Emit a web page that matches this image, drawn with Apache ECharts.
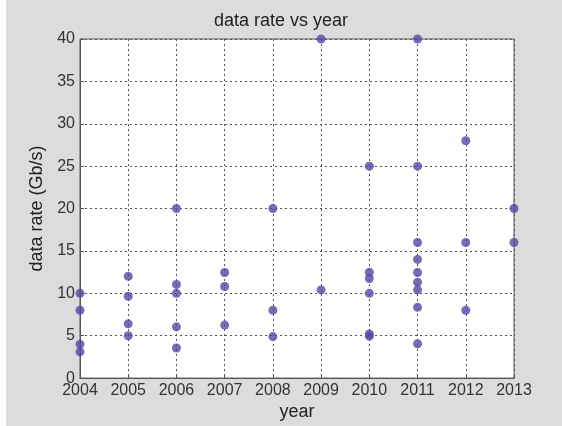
<!DOCTYPE html>
<html>
<head>
<meta charset="utf-8">
<script src="https://cdn.jsdelivr.net/npm/echarts@6/dist/echarts.min.js"></script>
<style>
  html, body { margin: 0; padding: 0; background: #dcdcdc; }
  #chart { width: 562px; height: 426px; }
</style>
</head>
<body>
<div id="chart"></div>
<script>
// Year of each measurement and its data rate in Gb/s
const years = [
  2004, 2004, 2004, 2004,
  2005, 2005, 2005, 2005,
  2006, 2006, 2006, 2006, 2006,
  2007, 2007, 2007,
  2008, 2008, 2008,
  2009, 2009,
  2010, 2010, 2010, 2010, 2010, 2010,
  2011, 2011, 2011, 2011, 2011, 2011, 2011, 2011, 2011,
  2012, 2012, 2012,
  2013, 2013
];
const rates = [
  10, 8, 4, 3.1,
  12, 9.65, 6.4, 5,
  20, 11.05, 10, 6.05, 3.55,
  12.45, 10.8, 6.25,
  20, 8, 4.9,
  40, 10.4,
  25, 12.5, 11.75, 10, 5.2, 4.95,
  40, 25, 16, 14, 12.45, 11.3, 10.4, 8.35, 4.05,
  28, 16, 8,
  20, 16
];
const yearTicks = [2004, 2005, 2006, 2007, 2008, 2009, 2010, 2011, 2012, 2013];

const points = years.map((y, i) => [y, rates[i]]);

const chart = echarts.init(document.getElementById('chart'), null, { renderer: 'canvas' });
const textColor = '#333333';
const font = 'Liberation Sans, Arial, sans-serif';

chart.setOption({
  backgroundColor: '#dcdcdc',
  animation: false,
  graphic: [
    { type: 'rect', left: 0, top: 0, shape: { x: 0, y: 0, width: 6, height: 426 }, style: { fill: '#ffffff' }, z: -1 }
  ],
  title: {
    text: 'data rate vs year',
    left: 'center',
    top: 7,
    textStyle: { fontFamily: font, fontSize: 18, fontWeight: 'normal', color: '#222222' }
  },
  grid: {
    left: 80, right: 48, top: 39, bottom: 44,
    show: true, backgroundColor: '#ffffff', borderColor: '#555555', borderWidth: 1
  },
  xAxis: {
    type: 'value',
    min: 2004, max: 2013, interval: 1,
    name: 'year',
    nameLocation: 'middle',
    nameGap: 24,
    nameTextStyle: { fontFamily: font, fontSize: 18, color: '#222222' },
    axisLine: { show: true, lineStyle: { color: '#555555' } },
    axisTick: { show: true, inside: true, length: 4, lineStyle: { color: '#555555' } },
    axisLabel: {
      fontFamily: font, fontSize: 16, color: textColor, margin: 4,
      formatter: v => yearTicks.includes(v) ? String(v) : ''
    },
    splitLine: { show: true, lineStyle: { color: '#555555', type: [2, 3], width: 1 } }
  },
  yAxis: {
    type: 'value',
    min: 0, max: 40, interval: 5,
    name: 'data rate (Gb/s)',
    nameLocation: 'middle',
    nameGap: 31,
    nameTextStyle: { fontFamily: font, fontSize: 18, color: '#222222' },
    axisLine: { show: true, lineStyle: { color: '#555555' } },
    axisTick: { show: true, inside: true, length: 4, lineStyle: { color: '#555555' } },
    axisLabel: { fontFamily: font, fontSize: 16, color: textColor, margin: 5 },
    splitLine: { show: true, lineStyle: { color: '#555555', type: [2, 3], width: 1 } }
  },
  series: [{
    type: 'scatter',
    data: points,
    symbol: 'circle',
    symbolSize: 9,
    clip: false,
    itemStyle: { color: '#5b45a8' }
  }]
});
</script>
</body>
</html>
